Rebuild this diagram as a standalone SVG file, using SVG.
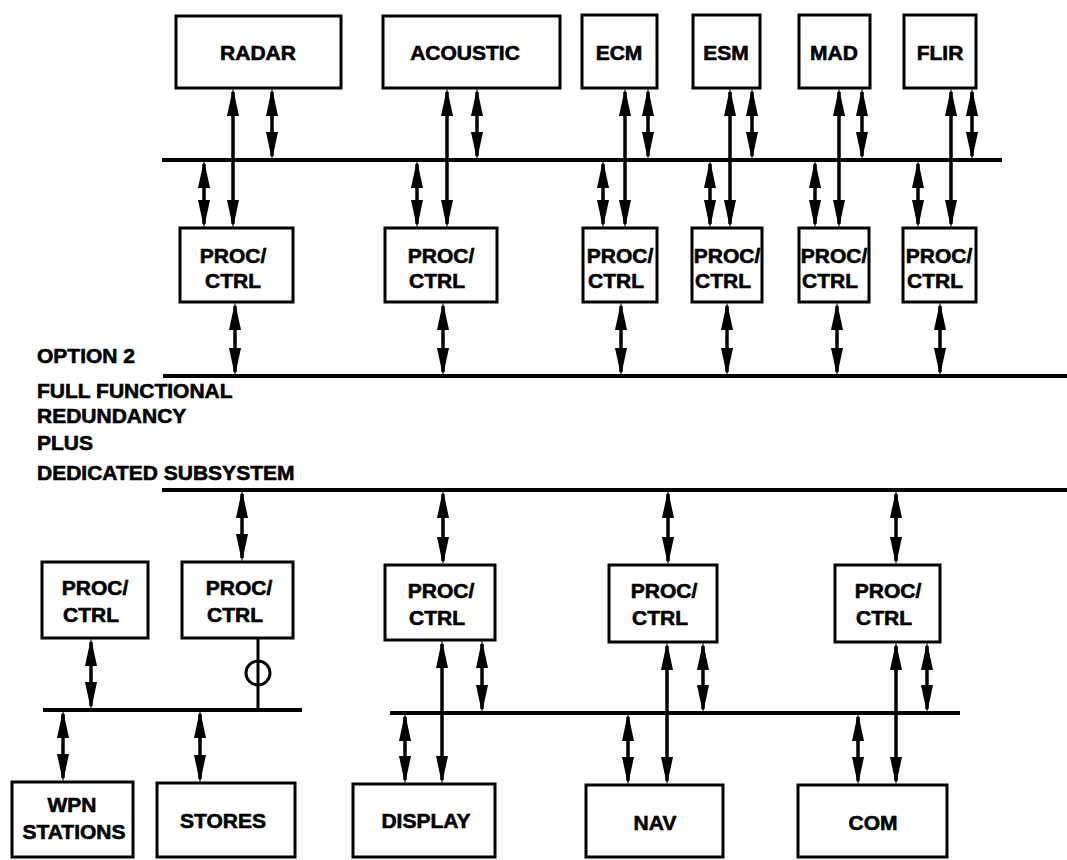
<svg xmlns="http://www.w3.org/2000/svg" width="1067" height="860" viewBox="0 0 1067 860">
<style>
.box{fill:#fff;stroke:#000;stroke-width:3}
.t{font-family:"Liberation Sans",Arial,sans-serif;font-weight:bold;font-size:21px;fill:#000;stroke:#000;stroke-width:0.6;text-anchor:middle}
.lt{font-family:"Liberation Sans",Arial,sans-serif;font-weight:bold;font-size:21px;fill:#000;stroke:#000;stroke-width:0.6}
.bus{stroke:#000;stroke-width:4;fill:none}
.ar{stroke:#000;stroke-width:3.5;fill:none;marker-start:url(#ah);marker-end:url(#ah)}
.ln{stroke:#000;stroke-width:3;fill:none}
</style>
<defs>
<marker id="ah" viewBox="0 0 28 12" refX="24" refY="6" markerWidth="28" markerHeight="12" markerUnits="userSpaceOnUse" orient="auto-start-reverse">
<path d="M0,0 L28,6 L0,12 Z" fill="#000"/>
</marker>
</defs>
<rect width="1067" height="860" fill="#fff"/>

<g id="connectors">
<line class="bus" x1="162" y1="160" x2="1002" y2="160"/>
<line class="bus" x1="163" y1="376" x2="1067" y2="376"/>
<line class="bus" x1="162" y1="490" x2="1067" y2="490"/>
<line class="bus" x1="43" y1="710" x2="302" y2="710"/>
<line class="bus" x1="390" y1="713" x2="960" y2="713"/>
<line class="ar" x1="233" y1="92" x2="233" y2="224"/>
<line class="ar" x1="272" y1="92" x2="272" y2="156"/>
<line class="ar" x1="204" y1="164" x2="204" y2="224"/>
<line class="ar" x1="235" y1="306" x2="235" y2="372"/>
<line class="ar" x1="447" y1="92" x2="447" y2="224"/>
<line class="ar" x1="477" y1="92" x2="477" y2="156"/>
<line class="ar" x1="417" y1="164" x2="417" y2="224"/>
<line class="ar" x1="443" y1="306" x2="443" y2="372"/>
<line class="ar" x1="625" y1="92" x2="625" y2="224"/>
<line class="ar" x1="648" y1="92" x2="648" y2="156"/>
<line class="ar" x1="603" y1="164" x2="603" y2="224"/>
<line class="ar" x1="621" y1="306" x2="621" y2="372"/>
<line class="ar" x1="730" y1="92" x2="730" y2="224"/>
<line class="ar" x1="752" y1="92" x2="752" y2="156"/>
<line class="ar" x1="710" y1="164" x2="710" y2="224"/>
<line class="ar" x1="727" y1="306" x2="727" y2="372"/>
<line class="ar" x1="839" y1="92" x2="839" y2="224"/>
<line class="ar" x1="862" y1="92" x2="862" y2="156"/>
<line class="ar" x1="815" y1="164" x2="815" y2="224"/>
<line class="ar" x1="837" y1="306" x2="837" y2="372"/>
<line class="ar" x1="951" y1="92" x2="951" y2="224"/>
<line class="ar" x1="972" y1="92" x2="972" y2="156"/>
<line class="ar" x1="918" y1="164" x2="918" y2="224"/>
<line class="ar" x1="940" y1="306" x2="940" y2="372"/>
<line class="ar" x1="242" y1="494" x2="242" y2="558"/>
<line class="ar" x1="443" y1="494" x2="443" y2="561"/>
<line class="ar" x1="668" y1="494" x2="668" y2="561"/>
<line class="ar" x1="896" y1="494" x2="896" y2="561"/>
<line class="ar" x1="91" y1="642" x2="91" y2="706"/>
<line class="ln" x1="258" y1="638" x2="258" y2="710"/>
<circle cx="258" cy="673" r="12" fill="none" stroke="#000" stroke-width="3"/>
<line class="ar" x1="63" y1="714" x2="63" y2="778"/>
<line class="ar" x1="200" y1="714" x2="200" y2="779"/>
<line class="ar" x1="442" y1="644" x2="442" y2="780"/>
<line class="ar" x1="482" y1="644" x2="482" y2="709"/>
<line class="ar" x1="405" y1="717" x2="405" y2="780"/>
<line class="ar" x1="667" y1="646" x2="667" y2="781"/>
<line class="ar" x1="703" y1="646" x2="703" y2="709"/>
<line class="ar" x1="628" y1="717" x2="628" y2="781"/>
<line class="ar" x1="896" y1="646" x2="896" y2="781"/>
<line class="ar" x1="927" y1="646" x2="927" y2="709"/>
<line class="ar" x1="858" y1="717" x2="858" y2="781"/>
</g>

<g id="radar"><rect class="box" x="176" y="16" width="165" height="72"/><text class="t" x="258" y="60">RADAR</text></g>
<g id="acoustic"><rect class="box" x="383" y="16" width="177" height="72"/><text class="t" x="465" y="60">ACOUSTIC</text></g>
<g id="ecm"><rect class="box" x="582" y="15" width="75" height="73"/><text class="t" x="619" y="60">ECM</text></g>
<g id="esm"><rect class="box" x="693" y="15" width="67" height="73"/><text class="t" x="726" y="60">ESM</text></g>
<g id="mad"><rect class="box" x="799" y="15" width="71" height="73"/><text class="t" x="834" y="60">MAD</text></g>
<g id="flir"><rect class="box" x="904" y="15" width="72" height="73"/><text class="t" x="940" y="60">FLIR</text></g>

<g id="proc-radar"><rect class="box" x="180" y="228" width="113" height="74"/><text class="t" x="233" y="263">PROC/</text><text class="t" x="233" y="288">CTRL</text></g>
<g id="proc-acoustic"><rect class="box" x="385" y="228" width="112" height="74"/><text class="t" x="441" y="263">PROC/</text><text class="t" x="437" y="288">CTRL</text></g>
<g id="proc-ecm"><rect class="box" x="583" y="228" width="74" height="74"/><text class="t" x="620" y="263">PROC/</text><text class="t" x="616" y="288">CTRL</text></g>
<g id="proc-esm"><rect class="box" x="692" y="228" width="70" height="74"/><text class="t" x="727" y="263">PROC/</text><text class="t" x="723" y="288">CTRL</text></g>
<g id="proc-mad"><rect class="box" x="799" y="228" width="70" height="74"/><text class="t" x="834" y="263">PROC/</text><text class="t" x="830" y="288">CTRL</text></g>
<g id="proc-flir"><rect class="box" x="903" y="228" width="73" height="74"/><text class="t" x="939" y="263">PROC/</text><text class="t" x="935" y="288">CTRL</text></g>

<g id="label">
<text class="lt" x="37" y="363">OPTION 2</text>
<text class="lt" x="37" y="398">FULL FUNCTIONAL</text>
<text class="lt" x="37" y="423">REDUNDANCY</text>
<text class="lt" x="37" y="450">PLUS</text>
<text class="lt" x="37" y="480">DEDICATED SUBSYSTEM</text>
</g>

<g id="proc-wpn"><rect class="box" x="42" y="562" width="106" height="76"/><text class="t" x="95" y="595">PROC/</text><text class="t" x="91" y="622">CTRL</text></g>
<g id="proc-stores"><rect class="box" x="182" y="562" width="111" height="76"/><text class="t" x="239" y="595">PROC/</text><text class="t" x="235" y="622">CTRL</text></g>
<g id="proc-display"><rect class="box" x="385" y="565" width="110" height="75"/><text class="t" x="441" y="598">PROC/</text><text class="t" x="437" y="625">CTRL</text></g>
<g id="proc-nav"><rect class="box" x="609" y="565" width="108" height="77"/><text class="t" x="664" y="598">PROC/</text><text class="t" x="660" y="625">CTRL</text></g>
<g id="proc-com"><rect class="box" x="835" y="565" width="105" height="77"/><text class="t" x="888" y="598">PROC/</text><text class="t" x="884" y="625">CTRL</text></g>

<g id="wpn"><rect class="box" x="12" y="782" width="121" height="75"/><text class="t" x="72" y="812">WPN</text><text class="t" x="74" y="839">STATIONS</text></g>
<g id="stores"><rect class="box" x="157" y="783" width="138" height="74"/><text class="t" x="223" y="828">STORES</text></g>
<g id="display"><rect class="box" x="353" y="784" width="142" height="73"/><text class="t" x="426" y="828">DISPLAY</text></g>
<g id="nav"><rect class="box" x="586" y="785" width="137" height="72"/><text class="t" x="655" y="830">NAV</text></g>
<g id="com"><rect class="box" x="798" y="785" width="149" height="72"/><text class="t" x="873" y="830">COM</text></g>
</svg>
